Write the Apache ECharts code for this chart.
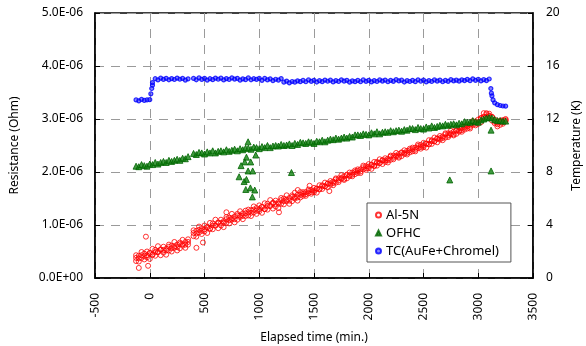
<!DOCTYPE html>
<html>
<head>
<meta charset="utf-8">
<script src="https://cdn.jsdelivr.net/npm/echarts@6/dist/echarts.min.js"></script>
<style>
  html, body { margin: 0; background: #fff; }
  #chart { width: 586px; height: 346px; }
</style>
</head>
<body>
<div id="chart"></div>
<script>
// sampling times (min.), shared by the three traces
const times = [
  -125, -100, -75, -50, -25, 0, 25, 50, 75, 100, 125, 150, 175, 200, 225, 250, 275, 300, 325, 350,
  400, 425, 450, 475, 500, 525, 550, 575, 600, 625, 650, 675, 700, 725, 750, 775, 800, 825, 850, 875,
  900, 925, 950, 975, 1000, 1025, 1050, 1075, 1100, 1125, 1150, 1175, 1200, 1225, 1250, 1275, 1300, 1325, 1350, 1375,
  1400, 1425, 1450, 1475, 1500, 1525, 1550, 1575, 1600, 1625, 1650, 1675, 1700, 1725, 1750, 1775, 1800, 1825, 1850, 1875,
  1900, 1925, 1950, 1975, 2000, 2025, 2050, 2075, 2100, 2125, 2150, 2175, 2200, 2225, 2250, 2275, 2300, 2325, 2350, 2375,
  2400, 2425, 2450, 2475, 2500, 2525, 2550, 2575, 2600, 2625, 2650, 2675, 2700, 2725, 2750, 2775, 2800, 2825, 2850, 2875,
  2900, 2925, 2950, 2975, 3000, 3025, 3050, 3075, 3100, 3125, 3150, 3175, 3200, 3225, 3250
];

// resistance values in units of 1E-06 Ohm; Al-5N band read as upper / middle / lower scatter
const alUpper = [
  0.43, 0.42, 0.49, 0.46, 0.50, 0.47, 0.55, 0.53, 0.60, 0.54, 0.59, 0.55, 0.63, 0.61, 0.68, 0.63, 0.67, 0.72, 0.68, 0.73,
  0.90, 0.89, 0.97, 0.94, 0.99, 0.96, 1.04, 1.03, 1.10, 1.05, 1.10, 1.07, 1.15, 1.14, 1.21, 1.16, 1.21, 1.26, 1.22, 1.27,
  1.29, 1.28, 1.35, 1.32, 1.37, 1.34, 1.41, 1.40, 1.47, 1.42, 1.46, 1.43, 1.51, 1.50, 1.56, 1.51, 1.56, 1.61, 1.57, 1.62,
  1.62, 1.62, 1.67, 1.66, 1.70, 1.68, 1.75, 1.75, 1.80, 1.78, 1.83, 1.82, 1.88, 1.88, 1.94, 1.92, 1.95, 1.99, 1.99, 2.03,
  2.05, 2.05, 2.12, 2.11, 2.15, 2.13, 2.19, 2.19, 2.24, 2.22, 2.26, 2.25, 2.31, 2.31, 2.36, 2.34, 2.37, 2.41, 2.40, 2.44,
  2.46, 2.46, 2.52, 2.51, 2.55, 2.53, 2.60, 2.60, 2.65, 2.63, 2.68, 2.67, 2.73, 2.73, 2.78, 2.76, 2.79, 2.83, 2.83, 2.87,
  2.89, 2.89, 2.96, 2.95, 2.99, 3.01, 3.11, 3.11, 3.10, 3.04, 2.99, 2.93, 2.97, 2.98, 3.00
];
const alMiddle = [
  0.38, 0.37, 0.43, 0.41, 0.43, 0.47, 0.44, 0.49, 0.49, 0.53, 0.53, 0.52, 0.59, 0.56, 0.60, 0.58, 0.64, 0.64, 0.63, 0.68,
  0.85, 0.84, 0.91, 0.89, 0.92, 0.96, 0.93, 0.99, 0.99, 1.04, 1.04, 1.04, 1.11, 1.09, 1.13, 1.11, 1.18, 1.18, 1.17, 1.22,
  1.24, 1.23, 1.29, 1.27, 1.30, 1.34, 1.30, 1.36, 1.36, 1.41, 1.40, 1.40, 1.47, 1.45, 1.48, 1.46, 1.53, 1.53, 1.52, 1.57,
  1.59, 1.58, 1.64, 1.62, 1.65, 1.69, 1.67, 1.73, 1.73, 1.78, 1.79, 1.79, 1.86, 1.84, 1.89, 1.87, 1.94, 1.94, 1.95, 2.00,
  2.02, 2.01, 2.09, 2.07, 2.10, 2.14, 2.11, 2.17, 2.17, 2.22, 2.22, 2.22, 2.29, 2.27, 2.31, 2.29, 2.36, 2.36, 2.36, 2.41,
  2.43, 2.42, 2.49, 2.47, 2.50, 2.54, 2.52, 2.58, 2.58, 2.63, 2.64, 2.64, 2.71, 2.69, 2.73, 2.71, 2.78, 2.78, 2.79, 2.84,
  2.86, 2.85, 2.93, 2.91, 2.94, 3.02, 3.03, 3.09, 3.06, 3.04, 2.95, 2.90, 2.95, 2.94, 2.98
];
const alLower = [
  0.32, 0.31, 0.38, 0.35, 0.39, 0.36, 0.44, 0.42, 0.49, 0.43, 0.48, 0.44, 0.52, 0.50, 0.57, 0.52, 0.56, 0.61, 0.57, 0.63,
  0.79, 0.78, 0.86, 0.83, 0.88, 0.85, 0.93, 0.92, 0.99, 0.94, 0.99, 0.96, 1.04, 1.03, 1.10, 1.05, 1.10, 1.15, 1.11, 1.17,
  1.18, 1.17, 1.24, 1.21, 1.26, 1.23, 1.30, 1.29, 1.36, 1.31, 1.35, 1.32, 1.40, 1.39, 1.45, 1.40, 1.45, 1.50, 1.46, 1.52,
  1.55, 1.55, 1.60, 1.59, 1.62, 1.61, 1.68, 1.68, 1.73, 1.71, 1.76, 1.75, 1.80, 1.81, 1.87, 1.85, 1.88, 1.92, 1.92, 1.96,
  1.98, 1.98, 2.05, 2.04, 2.07, 2.06, 2.12, 2.12, 2.17, 2.15, 2.19, 2.18, 2.23, 2.24, 2.29, 2.27, 2.30, 2.34, 2.33, 2.37,
  2.39, 2.39, 2.45, 2.44, 2.47, 2.46, 2.53, 2.53, 2.58, 2.56, 2.61, 2.60, 2.65, 2.66, 2.71, 2.69, 2.72, 2.76, 2.76, 2.80,
  2.82, 2.82, 2.89, 2.88, 2.91, 2.94, 3.04, 3.04, 3.06, 2.97, 2.92, 2.86, 2.89, 2.91, 2.96
];
const alStray = [
  [-35, 0.78], [-100, 0.19], [-15, 0.23], [426, 0.57], [486, 0.67], [700, 1.24],
  [1180, 1.24], [1352, 1.66], [1460, 1.74], [1640, 1.64]
];

const ofhc = [
  2.11, 2.10, 2.14, 2.12, 2.11, 2.15, 2.14, 2.18, 2.15, 2.18, 2.20, 2.18, 2.22, 2.20, 2.22, 2.24, 2.22, 2.26, 2.25, 2.29,
  2.35, 2.33, 2.37, 2.36, 2.34, 2.38, 2.36, 2.40, 2.36, 2.39, 2.40, 2.38, 2.42, 2.39, 2.41, 2.43, 2.40, 2.44, 2.42, 2.45,
  2.45, 2.43, 2.47, 2.46, 2.44, 2.48, 2.46, 2.50, 2.46, 2.49, 2.50, 2.49, 2.52, 2.50, 2.51, 2.53, 2.50, 2.54, 2.52, 2.56,
  2.55, 2.54, 2.57, 2.56, 2.54, 2.58, 2.57, 2.60, 2.57, 2.60, 2.62, 2.61, 2.64, 2.62, 2.64, 2.66, 2.64, 2.67, 2.66, 2.70,
  2.70, 2.69, 2.72, 2.71, 2.70, 2.74, 2.72, 2.76, 2.72, 2.75, 2.76, 2.75, 2.78, 2.76, 2.78, 2.79, 2.77, 2.80, 2.79, 2.82,
  2.82, 2.80, 2.84, 2.82, 2.81, 2.85, 2.83, 2.87, 2.84, 2.86, 2.88, 2.87, 2.90, 2.88, 2.90, 2.91, 2.89, 2.92, 2.91, 2.95,
  2.94, 2.94, 2.97, 2.95, 2.94, 2.98, 3.00, 3.02, 3.03, 3.02, 2.99, 2.97, 2.97, 2.96, 2.96
];
const ofhcStray = [
  [898, 2.57], [883, 2.28], [868, 2.19], [922, 2.19], [834, 2.12], [898, 2.02], [940, 2.02],
  [968, 2.32], [816, 1.91], [883, 1.86], [862, 1.82], [877, 1.67], [919, 1.70], [959, 1.66],
  [937, 1.53], [1294, 1.99], [2740, 1.85], [3117, 2.79], [3117, 2.02]
];

// thermocouple temperature (K), right axis
const tc = [
  13.44, 13.37, 13.48, 13.40, 13.45, 13.46, 14.55, 15.04, 14.95, 15.08, 14.99, 15.07, 14.96, 15.05, 14.98, 15.09, 15.00, 15.06, 14.94, 15.03,
  15.06, 14.96, 15.10, 14.99, 15.07, 14.94, 15.04, 14.97, 15.09, 15.00, 15.08, 14.95, 15.05, 14.98, 15.11, 15.01, 15.07, 14.93, 15.03, 14.97,
  15.10, 14.96, 15.04, 14.99, 15.06, 14.92, 15.06, 14.95, 15.03, 14.90, 15.00, 14.93, 15.05, 14.78, 14.86, 14.73, 14.83, 14.78, 14.88, 14.82,
  14.91, 14.81, 14.95, 14.84, 14.92, 14.79, 14.89, 14.82, 14.94, 14.85, 14.93, 14.80, 14.90, 14.83, 14.96, 14.86, 14.92, 14.78, 14.88, 14.82,
  14.91, 14.81, 14.95, 14.84, 14.92, 14.80, 14.90, 14.83, 14.95, 14.86, 14.94, 14.81, 14.91, 14.84, 14.97, 14.87, 14.93, 14.79, 14.89, 14.83,
  14.92, 14.82, 14.96, 14.85, 14.93, 14.80, 14.90, 14.83, 14.95, 14.86, 14.94, 14.81, 14.91, 14.84, 14.97, 14.87, 14.93, 14.86, 14.96, 14.90,
  14.99, 14.89, 15.03, 14.92, 15.00, 14.87, 14.97, 14.90, 15.02, 13.75, 13.22, 13.08, 13.02, 12.98, 12.97
];
const tcStray = [[10, 13.9], [18, 14.3], [25, 14.75], [3115, 14.3], [3120, 13.95], [3135, 13.45]];

const pairs = (vals) => times.map((t, i) => [t, vals[i]]);

const FONT = "'Noto Sans', sans-serif";
const gridDash = { type: [9, 7], color: '#9a9a9a', width: 1 };

const chart = echarts.init(document.getElementById('chart'), null, { renderer: 'canvas' });
chart.setOption({
  animation: false,
  textStyle: { fontFamily: FONT, color: '#000' },
  grid: {
    left: 95, right: 53, top: 13, bottom: 68,
    outerBoundsMode: 'none',
    show: true, borderColor: '#000', borderWidth: 1.5
  },
  legend: {
    orient: 'vertical',
    left: 367,
    top: 203,
    padding: [5, 12, 4, 8],
    itemGap: 4,
    itemWidth: 5,
    itemHeight: 5,
    backgroundColor: '#fff',
    borderColor: '#555',
    borderWidth: 1,
    textStyle: { fontFamily: FONT, fontSize: 13, color: '#000', lineHeight: 14 },
    data: ['Al-5N', 'OFHC', 'TC(AuFe+Chromel)']
  },
  xAxis: {
    type: 'value',
    min: -500,
    max: 3500,
    interval: 500,
    name: 'Elapsed time (min.)',
    nameLocation: 'middle',
    nameGap: 54,
    nameTextStyle: { fontSize: 12, color: '#000' },
    axisLine: { onZero: false, lineStyle: { color: '#000', width: 1.5 } },
    axisTick: { inside: true, length: 5, lineStyle: { color: '#000' } },
    axisLabel: { rotate: 89.9, margin: 15, fontSize: 12, color: '#000', formatter: (v) => String(v) },
    splitLine: { lineStyle: gridDash }
  },
  yAxis: [
    {
      type: 'value',
      min: 0,
      max: 5,
      interval: 1,
      name: 'Resistance (Ohm)',
      nameLocation: 'middle',
      nameGap: 74,
      nameTextStyle: { fontSize: 12, color: '#000' },
      axisLine: { show: true, onZero: false, lineStyle: { color: '#000', width: 1.5 } },
      axisTick: { show: true, inside: true, length: 5, lineStyle: { color: '#000' } },
      axisLabel: {
        margin: 12,
        fontSize: 12,
        color: '#000',
        formatter: (v) => (v === 0 ? '0.0E+00' : v.toFixed(1) + 'E-06')
      },
      splitLine: { lineStyle: gridDash }
    },
    {
      type: 'value',
      position: 'right',
      min: 0,
      max: 20,
      interval: 4,
      name: 'Temperature (K)',
      nameLocation: 'middle',
      nameGap: 38,
      nameTextStyle: { fontSize: 12, color: '#000' },
      axisLine: { show: true, onZero: false, lineStyle: { color: '#000', width: 1.5 } },
      axisTick: { show: true, inside: true, length: 5, lineStyle: { color: '#000' } },
      axisLabel: { margin: 13, fontSize: 12, color: '#000' },
      splitLine: { show: false }
    }
  ],
  series: [
    {
      name: 'Al-5N',
      type: 'scatter',
      symbol: 'circle',
      symbolSize: 5,
      itemStyle: { color: 'rgba(255,255,255,0)', borderColor: '#ff0000', borderWidth: 1 },
      data: pairs(alUpper).concat(pairs(alMiddle), pairs(alLower), alStray)
    },
    {
      name: 'OFHC',
      type: 'scatter',
      symbol: 'triangle',
      symbolSize: 6,
      itemStyle: { color: '#0f7f0f', borderColor: '#006400', borderWidth: 1 },
      data: pairs(ofhc).concat(ofhcStray)
    },
    {
      name: 'TC(AuFe+Chromel)',
      type: 'scatter',
      yAxisIndex: 1,
      symbol: 'circle',
      symbolSize: 4,
      itemStyle: { color: 'rgba(0,0,255,0.6)', borderColor: '#0000ff', borderWidth: 1.2 },
      data: pairs(tc).concat(tcStray)
    }
  ]
});
</script>
</body>
</html>
